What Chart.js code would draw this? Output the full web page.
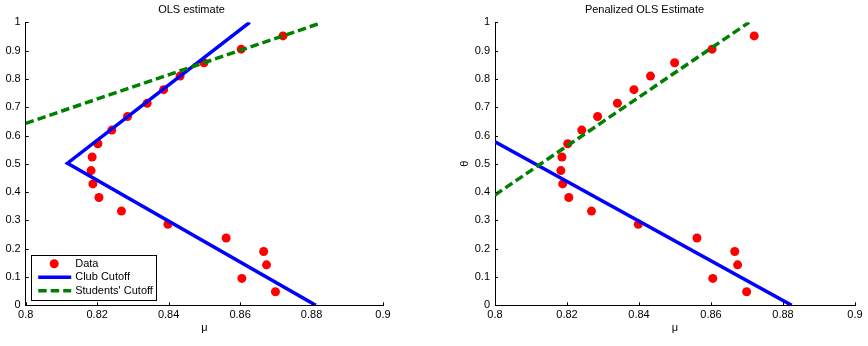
<!DOCTYPE html>
<html>
<head>
<meta charset="utf-8">
<script src="https://cdn.jsdelivr.net/npm/chart.js@4.4.1/dist/chart.umd.min.js"></script>
<style>
    html, body { margin: 0; padding: 0; background: #fff; }
    #wrap { position: relative; width: 868px; height: 346px; }
    .panel { position: absolute; top: 0; width: 434px; height: 346px; }
</style>
</head>
<body>
<div id="wrap">
    <div class="panel" style="left:0"><canvas id="ols" width="434" height="346"></canvas></div>
    <div class="panel" style="left:434px"><canvas id="penalized" width="434" height="346"></canvas></div>
</div>
<script>
// observed data (mu, theta)
const thetaValues = [0.952, 0.905, 0.857, 0.810, 0.762, 0.714, 0.667, 0.619, 0.571, 0.524,
    0.476, 0.429, 0.381, 0.333, 0.286, 0.238, 0.190, 0.143, 0.095, 0.048];
const muValues = [0.8720, 0.8603, 0.8499, 0.8432, 0.8386, 0.8340, 0.8285, 0.8241, 0.8202, 0.8186,
    0.8183, 0.8188, 0.8205, 0.8268, 0.8398, 0.8561, 0.8666, 0.8674, 0.8605, 0.8699];

// OLS estimate cutoffs
const olsClubMu = [0.8627, 0.8117, 0.8812];
const olsClubTheta = [1.0, 0.502, 0.0];
const olsStudentsMu = [0.8, 0.882];
const olsStudentsTheta = [0.643, 0.995];

// Penalized OLS cutoffs
const penClubMu = [0.8, 0.8824];
const penClubTheta = [0.578, 0.0];
const penStudentsMu = [0.8, 0.8706];
const penStudentsTheta = [0.39, 1.0];

const xTicks = [0.8, 0.82, 0.84, 0.86, 0.88, 0.9];
const yTicks = [0, 0.1, 0.2, 0.3, 0.4, 0.5, 0.6, 0.7, 0.8, 0.9, 1];

const legendLabels = ['Data', 'Club Cutoff', "Students' Cutoff"];

const FONT = "'Liberation Sans', Arial, Helvetica, sans-serif";

const toPoints = (xs, ys) => xs.map((x, i) => ({ x, y: ys[i] }));

// MATLAB style ticks pointing into the plot
const innerTicks = {
    id: 'innerTicks',
    afterDraw(chart) {
        const { ctx, chartArea: area, scales: { x, y } } = chart;
        ctx.save();
        ctx.strokeStyle = '#000';
        ctx.lineWidth = 1;
        ctx.beginPath();
        x.ticks.forEach((t) => {
            const px = Math.round(x.getPixelForValue(t.value)) + 0.5;
            ctx.moveTo(px, area.bottom);
            ctx.lineTo(px, area.bottom - 3);
        });
        y.ticks.forEach((t) => {
            const py = Math.round(y.getPixelForValue(t.value)) + 0.5;
            ctx.moveTo(area.left, py);
            ctx.lineTo(area.left + 3, py);
        });
        ctx.stroke();
        ctx.restore();
    },
};

// boxed legend in the lower left corner of the axes
const boxLegend = {
    id: 'boxLegend',
    afterDraw(chart, args, opts) {
        if (!opts.show) {
            return;
        }
        const { ctx, chartArea: area } = chart;
        const sets = chart.data.datasets;
        const left = area.left + 5.5;
        const bottom = area.bottom - 5.5;
        const width = 125;
        const height = 45;
        const top = bottom - height;

        ctx.save();
        ctx.fillStyle = '#fff';
        ctx.fillRect(left, top, width, height);
        ctx.strokeStyle = '#000';
        ctx.lineWidth = 1;
        ctx.strokeRect(Math.round(left) + 0.5, Math.round(top) + 0.5, width, height);

        ctx.font = `11px ${FONT}`;
        ctx.textBaseline = 'middle';
        ctx.fillStyle = '#000';
        legendLabels.forEach((label, i) => {
            const rowY = top + 9 + i * 13.5;
            const ds = sets[i];
            if (i === 0) {
                ctx.beginPath();
                ctx.fillStyle = ds.backgroundColor;
                ctx.arc(left + 23, rowY, ds.pointRadius, 0, Math.PI * 2);
                ctx.fill();
            } else {
                ctx.beginPath();
                ctx.strokeStyle = ds.borderColor;
                ctx.lineWidth = ds.borderWidth;
                ctx.setLineDash(ds.borderDash || []);
                ctx.moveTo(left + 7, rowY);
                ctx.lineTo(left + 40, rowY);
                ctx.stroke();
                ctx.setLineDash([]);
            }
            ctx.fillStyle = '#000';
            ctx.fillText(label, left + 44, rowY);
        });
        ctx.restore();
    },
};

function buildDatasets(clubMu, clubTheta, studentsMu, studentsTheta) {
    return [
        {
            label: legendLabels[0],
            data: toPoints(muValues, thetaValues),
            backgroundColor: '#ff0000',
            borderColor: '#ff0000',
            pointRadius: 4.5,
            pointBorderWidth: 0,
            showLine: false,
            order: 3,
        },
        {
            label: legendLabels[1],
            data: toPoints(clubMu, clubTheta),
            borderColor: '#0000ff',
            borderWidth: 3.5,
            borderJoinStyle: 'miter',
            pointRadius: 0,
            showLine: true,
            order: 2,
        },
        {
            label: legendLabels[2],
            data: toPoints(studentsMu, studentsTheta),
            borderColor: '#008000',
            borderWidth: 3.5,
            borderDash: [8.5, 4],
            pointRadius: 0,
            showLine: true,
            order: 1,
        },
    ];
}

function buildConfig(opts) {
    return {
        type: 'scatter',
        data: {
            datasets: buildDatasets(opts.clubMu, opts.clubTheta, opts.studentsMu, opts.studentsTheta),
        },
        options: {
            responsive: false,
            animation: false,
            events: [],
            layout: {
                padding: { left: 0, right: opts.rightPad, top: 0, bottom: 0 },
            },
            plugins: {
                legend: { display: false },
                tooltip: { enabled: false },
                title: {
                    display: true,
                    text: opts.title,
                    color: '#000',
                    font: { family: FONT, size: 11, weight: 'normal' },
                    padding: { top: 3, bottom: 6.1 },
                },
                boxLegend: { show: opts.legend },
            },
            scales: {
                x: {
                    type: 'linear',
                    min: 0.8,
                    max: 0.9,
                    afterBuildTicks: (scale) => {
                        scale.ticks = xTicks.map((value) => ({ value }));
                    },
                    afterFit: (scale) => {
                        scale.height = 40.7;
                    },
                    ticks: {
                        color: '#000',
                        padding: 3,
                        maxRotation: 0,
                        autoSkip: false,
                        font: { family: FONT, size: 11 },
                        callback: (value) => String(value),
                    },
                    grid: { display: false, drawTicks: false },
                    border: { display: true, color: '#000', width: 1 },
                    title: {
                        display: true,
                        text: 'μ',
                        color: '#000',
                        font: { family: FONT, size: 11 },
                        padding: { top: 11, bottom: 11 },
                    },
                },
                y: {
                    type: 'linear',
                    min: 0,
                    max: 1,
                    afterBuildTicks: (scale) => {
                        scale.ticks = yTicks.map((value) => ({ value }));
                    },
                    afterFit: (scale) => {
                        scale.width = opts.yWidth;
                    },
                    ticks: {
                        color: '#000',
                        padding: 5,
                        autoSkip: false,
                        font: { family: FONT, size: 11 },
                        callback: (value) => String(value),
                    },
                    grid: { display: false, drawTicks: false },
                    border: { display: true, color: '#000', width: 1 },
                    title: {
                        display: opts.yTitle !== '',
                        text: opts.yTitle,
                        color: '#000',
                        font: { family: FONT, size: 11 },
                        padding: { top: 24.4, bottom: 24.4 },
                    },
                },
            },
        },
        plugins: [innerTicks, boxLegend],
    };
}

new Chart(document.getElementById('ols'), buildConfig({
    title: 'OLS estimate',
    clubMu: olsClubMu,
    clubTheta: olsClubTheta,
    studentsMu: olsStudentsMu,
    studentsTheta: olsStudentsTheta,
    rightPad: 51,
    yWidth: 25.7,
    yTitle: '',
    legend: true,
}));

new Chart(document.getElementById('penalized'), buildConfig({
    title: 'Penalized OLS Estimate',
    clubMu: penClubMu,
    clubTheta: penClubTheta,
    studentsMu: penStudentsMu,
    studentsTheta: penStudentsTheta,
    rightPad: 13,
    yWidth: 61,
    yTitle: 'θ',
    legend: false,
}));
</script>
</body>
</html>
